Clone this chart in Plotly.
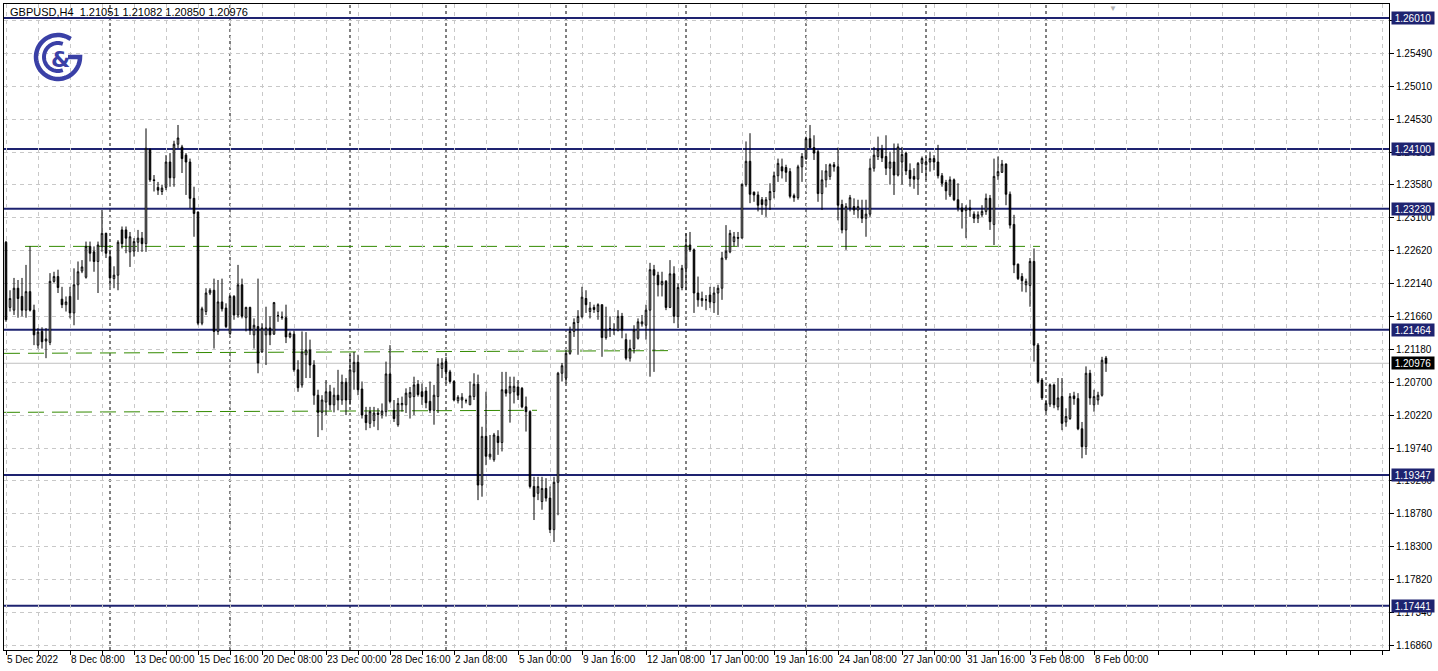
import numpy as np
import pandas as pd
import plotly.graph_objects as go

symbol = "GBPUSD,H4"

opens = [
    1.2274, 1.2179, 1.2175, 1.2207, 1.2195, 1.2175, 1.2202, 1.2175, 1.2124, 1.2144,
    1.2130, 1.2128, 1.2217, 1.2224, 1.2191, 1.2183, 1.2195, 1.2171, 1.2212, 1.2232,
    1.2223, 1.2268, 1.2260, 1.2246, 1.2268, 1.2287, 1.2253, 1.2221, 1.2226, 1.2292,
    1.2292, 1.2260, 1.2261, 1.2274, 1.2280, 1.2272, 1.2409, 1.2365, 1.2354, 1.2348,
    1.2354, 1.2391, 1.2368, 1.2417, 1.2413, 1.2401, 1.2391, 1.2338, 1.2318, 1.2156,
    1.2173, 1.2200, 1.2204, 1.2144, 1.2187, 1.2178, 1.2141, 1.2195, 1.2168, 1.2212,
    1.2164, 1.2179, 1.2139, 1.2151, 1.2114, 1.2139, 1.2149, 1.2140, 1.2167, 1.2164,
    1.2164, 1.2136, 1.2140, 1.2088, 1.2066, 1.2110, 1.2117, 1.2095, 1.2051, 1.2026,
    1.2041, 1.2056, 1.2037, 1.2051, 1.2044, 1.2070, 1.2044, 1.2085, 1.2099, 1.2060,
    1.2022, 1.2010, 1.2014, 1.2025, 1.2023, 1.2027, 1.2082, 1.2029, 1.2008, 1.2037,
    1.2037, 1.2048, 1.2049, 1.2067, 1.2056, 1.2057, 1.2042, 1.2029, 1.2049, 1.2090,
    1.2100, 1.2085, 1.2071, 1.2043, 1.2044, 1.2043, 1.2037, 1.2049, 1.2067, 1.1920,
    1.1991, 1.1961, 1.1957, 1.1991, 1.1982, 1.2059, 1.2054, 1.2056, 1.2063, 1.2061,
    1.2034, 1.2027, 1.1918, 1.1908, 1.1896, 1.1915, 1.1901, 1.1855, 1.1924, 1.2083,
    1.2076, 1.2112, 1.2144, 1.2157, 1.2166, 1.2192, 1.2173, 1.2179, 1.2173, 1.2183,
    1.2135, 1.2148, 1.2146, 1.2146, 1.2166, 1.2132, 1.2105, 1.2119, 1.2134, 1.2155,
    1.2153, 1.2175, 1.2234, 1.2226, 1.2212, 1.2217, 1.2179, 1.2228, 1.2166, 1.2208,
    1.2236, 1.2270, 1.2263, 1.2200, 1.2189, 1.2190, 1.2197, 1.2186, 1.2200, 1.2207,
    1.2251, 1.2260, 1.2275, 1.2281, 1.2280, 1.2358, 1.2392, 1.2347, 1.2343, 1.2336,
    1.2328, 1.2336, 1.2348, 1.2371, 1.2384, 1.2383, 1.2377, 1.2342, 1.2339, 1.2384,
    1.2396, 1.2425, 1.2412, 1.2406, 1.2345, 1.2365, 1.2370, 1.2387, 1.2384, 1.2329,
    1.2292, 1.2324, 1.2326, 1.2321, 1.2321, 1.2309, 1.2315, 1.2382, 1.2399, 1.2409,
    1.2399, 1.2382, 1.2391, 1.2372, 1.2391, 1.2404, 1.2379, 1.2370, 1.2366, 1.2389,
    1.2387, 1.2391, 1.2396, 1.2391, 1.2371, 1.2361, 1.2343, 1.2365, 1.2336, 1.2324,
    1.2320, 1.2324, 1.2315, 1.2309, 1.2314, 1.2319, 1.2338, 1.2300, 1.2371, 1.2376,
    1.2388, 1.2344, 1.2300, 1.2242, 1.2224, 1.2212, 1.2211, 1.2246, 1.2124, 1.2073,
    1.2029, 1.2038, 1.2066, 1.2034, 1.2049, 1.2012, 1.2017, 1.2050, 1.2046, 1.2002,
    1.1976, 1.2083, 1.2037, 1.2044, 1.2051, 1.21051,
]
highs = [
    1.2276, 1.2204, 1.2222, 1.2219, 1.2222, 1.2241, 1.2268, 1.2183, 1.2149, 1.2150,
    1.2149, 1.2229, 1.2231, 1.2234, 1.2209, 1.2195, 1.2209, 1.2236, 1.2246, 1.2248,
    1.2275, 1.2275, 1.2268, 1.2275, 1.2321, 1.2288, 1.2263, 1.2239, 1.2277, 1.2297,
    1.2297, 1.2289, 1.2280, 1.2292, 1.2289, 1.2440, 1.2411, 1.2372, 1.2362, 1.2358,
    1.2401, 1.2404, 1.2422, 1.2445, 1.2416, 1.2404, 1.2396, 1.2355, 1.2319, 1.2180,
    1.2207, 1.2207, 1.2221, 1.2219, 1.2221, 1.2185, 1.2197, 1.2197, 1.2241, 1.2221,
    1.2180, 1.2180, 1.2163, 1.2221, 1.2156, 1.2180, 1.2166, 1.2187, 1.2173, 1.2173,
    1.2183, 1.2144, 1.2145, 1.2102, 1.2144, 1.2143, 1.2132, 1.2102, 1.2059, 1.2051,
    1.2073, 1.2066, 1.2062, 1.2088, 1.2081, 1.2076, 1.2110, 1.2114, 1.2110, 1.2071,
    1.2034, 1.2034, 1.2034, 1.2032, 1.2039, 1.2100, 1.2124, 1.2044, 1.2047, 1.2049,
    1.2061, 1.2063, 1.2078, 1.2073, 1.2068, 1.2063, 1.2071, 1.2066, 1.2105, 1.2105,
    1.2107, 1.2088, 1.2073, 1.2051, 1.2054, 1.2046, 1.2071, 1.2083, 1.2081, 1.2005,
    1.2056, 1.1993, 1.1996, 1.2000, 1.2085, 1.2085, 1.2078, 1.2078, 1.2073, 1.2063,
    1.2049, 1.2029, 1.1932, 1.1932, 1.1932, 1.1930, 1.1918, 1.1932, 1.2085, 1.2098,
    1.2117, 1.2151, 1.2163, 1.2175, 1.2209, 1.2204, 1.2187, 1.2183, 1.2185, 1.2183,
    1.2180, 1.2166, 1.2156, 1.2175, 1.2171, 1.2141, 1.2132, 1.2153, 1.2163, 1.2168,
    1.2183, 1.2244, 1.2241, 1.2231, 1.2231, 1.2219, 1.2248, 1.2239, 1.2214, 1.2241,
    1.2287, 1.2289, 1.2265, 1.2224, 1.2202, 1.2197, 1.2209, 1.2209, 1.2212, 1.2260,
    1.2299, 1.2292, 1.2289, 1.2289, 1.2360, 1.2421, 1.2433, 1.2348, 1.2348, 1.2340,
    1.2340, 1.2360, 1.2377, 1.2396, 1.2396, 1.2387, 1.2382, 1.2345, 1.2387, 1.2404,
    1.2428, 1.2445, 1.2430, 1.2409, 1.2379, 1.2388, 1.2389, 1.2391, 1.2412, 1.2336,
    1.2331, 1.2343, 1.2338, 1.2336, 1.2336, 1.2336, 1.2396, 1.2413, 1.2428, 1.2416,
    1.2430, 1.2406, 1.2418, 1.2418, 1.2413, 1.2406, 1.2389, 1.2382, 1.2391, 1.2399,
    1.2399, 1.2406, 1.2401, 1.2416, 1.2375, 1.2365, 1.2370, 1.2367, 1.2360, 1.2331,
    1.2328, 1.2336, 1.2319, 1.2319, 1.2328, 1.2345, 1.2343, 1.2396, 1.2399, 1.2394,
    1.2389, 1.2348, 1.2314, 1.2243, 1.2229, 1.2221, 1.2251, 1.2265, 1.2127, 1.2076,
    1.2044, 1.2068, 1.2068, 1.2076, 1.2076, 1.2032, 1.2054, 1.2056, 1.2054, 1.2012,
    1.2093, 1.2088, 1.2059, 1.2056, 1.2107, 1.21082,
]
lows = [
    1.2158, 1.2173, 1.2168, 1.2164, 1.2166, 1.2164, 1.2173, 1.2124, 1.2119, 1.2119,
    1.2105, 1.2124, 1.2215, 1.2200, 1.2178, 1.2173, 1.2163, 1.2153, 1.2190, 1.2229,
    1.2221, 1.2246, 1.2231, 1.2200, 1.2260, 1.2251, 1.2209, 1.2207, 1.2204, 1.2265,
    1.2258, 1.2238, 1.2253, 1.2260, 1.2260, 1.2260, 1.2362, 1.2348, 1.2343, 1.2343,
    1.2350, 1.2355, 1.2355, 1.2411, 1.2375, 1.2343, 1.2324, 1.2282, 1.2153, 1.2153,
    1.2168, 1.2197, 1.2119, 1.2139, 1.2173, 1.2149, 1.2139, 1.2161, 1.2164, 1.2163,
    1.2144, 1.2139, 1.2119, 1.2083, 1.2113, 1.2095, 1.2124, 1.2139, 1.2158, 1.2161,
    1.2127, 1.2134, 1.2085, 1.2056, 1.2062, 1.2076, 1.2076, 1.2037, 1.1990, 1.2000,
    1.2022, 1.2029, 1.2026, 1.2029, 1.2037, 1.2022, 1.2037, 1.2059, 1.2051, 1.2017,
    1.2000, 1.2003, 1.2005, 1.2000, 1.2017, 1.2020, 1.2039, 1.2012, 1.2005, 1.2027,
    1.2025, 1.2017, 1.2022, 1.2049, 1.2037, 1.2032, 1.2025, 1.2008, 1.2025, 1.2076,
    1.2068, 1.2068, 1.2042, 1.2039, 1.2032, 1.2039, 1.2037, 1.2044, 1.1898, 1.1903,
    1.1949, 1.1957, 1.1954, 1.1964, 1.1969, 1.2049, 1.2011, 1.2039, 1.2044, 1.2032,
    1.1998, 1.1915, 1.1869, 1.1898, 1.1884, 1.1896, 1.1850, 1.1837, 1.1876, 1.2071,
    1.2068, 1.2110, 1.2136, 1.2110, 1.2163, 1.2171, 1.2163, 1.2171, 1.2161, 1.2107,
    1.2132, 1.2136, 1.2139, 1.2144, 1.2134, 1.2102, 1.2100, 1.2112, 1.2132, 1.2151,
    1.2132, 1.2078, 1.2085, 1.2195, 1.2195, 1.2175, 1.2178, 1.2156, 1.2149, 1.2204,
    1.2204, 1.2260, 1.2171, 1.2180, 1.2180, 1.2175, 1.2178, 1.2171, 1.2168, 1.2190,
    1.2248, 1.2258, 1.2268, 1.2267, 1.2280, 1.2355, 1.2331, 1.2333, 1.2319, 1.2314,
    1.2311, 1.2321, 1.2338, 1.2362, 1.2367, 1.2362, 1.2338, 1.2333, 1.2336, 1.2362,
    1.2394, 1.2411, 1.2394, 1.2333, 1.2321, 1.2354, 1.2365, 1.2377, 1.2306, 1.2287,
    1.2263, 1.2319, 1.2314, 1.2309, 1.2302, 1.2282, 1.2311, 1.2377, 1.2394, 1.2391,
    1.2372, 1.2358, 1.2343, 1.2370, 1.2358, 1.2372, 1.2355, 1.2352, 1.2343, 1.2375,
    1.2365, 1.2377, 1.2379, 1.2367, 1.2355, 1.2336, 1.2340, 1.2334, 1.2319, 1.2294,
    1.2280, 1.2311, 1.2302, 1.2302, 1.2311, 1.2314, 1.2292, 1.2270, 1.2365, 1.2375,
    1.2328, 1.2294, 1.2229, 1.2219, 1.2202, 1.2201, 1.2180, 1.2100, 1.2068, 1.2044,
    1.2025, 1.2034, 1.2032, 1.2029, 1.2000, 1.2005, 1.2015, 1.2037, 1.2000, 1.1959,
    1.1964, 1.2037, 1.2027, 1.2037, 1.2049, 1.20850,
]
closes = [
    1.2161, 1.2192, 1.2207, 1.2192, 1.2175, 1.2202, 1.2175, 1.2139, 1.2143, 1.2129,
    1.2133, 1.2217, 1.2224, 1.2208, 1.2183, 1.2187, 1.2171, 1.2212, 1.2231, 1.2238,
    1.2268, 1.2258, 1.2246, 1.2270, 1.2287, 1.2258, 1.2222, 1.2226, 1.2274, 1.2272,
    1.2280, 1.2282, 1.2275, 1.2280, 1.2272, 1.2411, 1.2365, 1.2364, 1.2350, 1.2353,
    1.2391, 1.2368, 1.2417, 1.2426, 1.2396, 1.2391, 1.2338, 1.2316, 1.2156, 1.2177,
    1.2200, 1.2204, 1.2144, 1.2187, 1.2177, 1.2151, 1.2195, 1.2168, 1.2212, 1.2166,
    1.2179, 1.2146, 1.2153, 1.2098, 1.2149, 1.2149, 1.2139, 1.2186, 1.2167, 1.2165,
    1.2136, 1.2141, 1.2088, 1.2062, 1.2114, 1.2117, 1.2095, 1.2051, 1.2026, 1.2044,
    1.2056, 1.2037, 1.2051, 1.2044, 1.2070, 1.2044, 1.2088, 1.2099, 1.2059, 1.2022,
    1.2011, 1.2027, 1.2025, 1.2023, 1.2028, 1.2082, 1.2042, 1.2017, 1.2039, 1.2039,
    1.2054, 1.2055, 1.2066, 1.2052, 1.2049, 1.2040, 1.2029, 1.2051, 1.2096, 1.2098,
    1.2085, 1.2071, 1.2044, 1.2048, 1.2048, 1.2043, 1.2050, 1.2067, 1.1920, 1.1991,
    1.1962, 1.1965, 1.1993, 1.1982, 1.2059, 1.2054, 1.2064, 1.2064, 1.2051, 1.2034,
    1.2027, 1.1918, 1.1903, 1.1918, 1.1915, 1.1901, 1.1855, 1.1924, 1.2083, 1.2094,
    1.2112, 1.2144, 1.2157, 1.2166, 1.2194, 1.2183, 1.2178, 1.2176, 1.2183, 1.2135,
    1.2147, 1.2148, 1.2147, 1.2166, 1.2146, 1.2105, 1.2119, 1.2146, 1.2158, 1.2158,
    1.2175, 1.2234, 1.2226, 1.2212, 1.2217, 1.2179, 1.2228, 1.2166, 1.2208, 1.2236,
    1.2270, 1.2263, 1.2200, 1.2190, 1.2192, 1.2190, 1.2187, 1.2200, 1.2207, 1.2251,
    1.2261, 1.2287, 1.2282, 1.2280, 1.2358, 1.2392, 1.2344, 1.2343, 1.2328, 1.2329,
    1.2336, 1.2348, 1.2371, 1.2389, 1.2378, 1.2376, 1.2341, 1.2339, 1.2384, 1.2399,
    1.2425, 1.2412, 1.2404, 1.2345, 1.2365, 1.2378, 1.2387, 1.2384, 1.2328, 1.2292,
    1.2326, 1.2339, 1.2321, 1.2326, 1.2309, 1.2315, 1.2382, 1.2401, 1.2409, 1.2397,
    1.2382, 1.2391, 1.2372, 1.2413, 1.2402, 1.2378, 1.2367, 1.2366, 1.2389, 1.2396,
    1.2391, 1.2396, 1.2391, 1.2371, 1.2360, 1.2349, 1.2365, 1.2336, 1.2324, 1.2319,
    1.2324, 1.2321, 1.2309, 1.2314, 1.2319, 1.2338, 1.2304, 1.2370, 1.2377, 1.2388,
    1.2344, 1.2299, 1.2241, 1.2221, 1.2218, 1.2217, 1.2246, 1.2124, 1.2071, 1.2047,
    1.2039, 1.2066, 1.2037, 1.2047, 1.2010, 1.2020, 1.2049, 1.2046, 1.2002, 1.1976,
    1.2083, 1.2047, 1.2049, 1.2051, 1.2102, 1.20976,
]

# trading calendar of the H4 bars shown (Dec 26 was a holiday)
first_bar = pd.Timestamp("2022-12-05 16:00")
last_bar = pd.Timestamp("2023-02-08 12:00")
holidays = [pd.Timestamp("2022-12-26")]

x_tick_labels = ["5 Dec 2022", "8 Dec 08:00", "13 Dec 00:00", "15 Dec 16:00", "20 Dec 08:00",
                 "23 Dec 00:00", "28 Dec 16:00", "2 Jan 08:00", "5 Jan 00:00", "9 Jan 16:00",
                 "12 Jan 08:00", "17 Jan 00:00", "19 Jan 16:00", "24 Jan 08:00", "27 Jan 00:00",
                 "31 Jan 16:00", "3 Feb 08:00", "8 Feb 00:00"]

y_tick_values = [1.16860, 1.17340, 1.17820, 1.18300, 1.18780, 1.19260, 1.19740, 1.20220,
                 1.20700, 1.21180, 1.21660, 1.22140, 1.22620, 1.23100, 1.23580, 1.24055,
                 1.24530, 1.25010, 1.25490, 1.25970]

levels = [1.26010, 1.24100, 1.23230, 1.21464, 1.19347, 1.17441]

# green trend lines: (start bar, start price, end bar, end price)
green_lines = [
    (4.75, 1.2268, 258.5, 1.2268),
    (-0.5, 1.2112, 166.0, 1.2116),
    (-0.5, 1.2026, 132.75, 1.2029),
]

# ---------------------------------------------------------------------------
days = [d for d in pd.bdate_range("2022-12-05", "2023-02-08") if d not in holidays]
bar_times = [d + pd.Timedelta(hours=h) for d in days for h in range(0, 24, 4)]
bar_times = [t for t in bar_times if first_bar <= t <= last_bar]
n = len(bar_times)
xs = list(range(n))

def fmt(t):
    return f"{t.day} {t:%b} {t:%H:%M}"

names = [fmt(t) for t in bar_times]
label_pos = {0: x_tick_labels[0]}
for lab in x_tick_labels[1:]:
    if lab in names:
        label_pos[names.index(lab)] = lab

X_MAX = 345.75
tickvals, ticktext = [], []
k = 0
while k <= X_MAX:
    tickvals.append(k)
    ticktext.append(label_pos.get(k, ""))
    k += 8
for p, lab in label_pos.items():
    if p not in tickvals:
        tickvals.append(p)
        ticktext.append(lab)

week_starts = [i for i in range(1, n) if bar_times[i].isocalendar()[1] != bar_times[i - 1].isocalendar()[1]]

NAVY = "#1e2370"
FONT = "Liberation Sans"

fig = go.Figure()
fig.add_trace(go.Candlestick(
    x=xs, open=opens, high=highs, low=lows, close=closes,
    increasing=dict(line=dict(color="black", width=1), fillcolor="white"),
    decreasing=dict(line=dict(color="black", width=1), fillcolor="black"),
    whiskerwidth=0, showlegend=False, hoverinfo="skip",
))

shapes = []
for w in week_starts:
    shapes.append(dict(type="line", xref="x", yref="paper", x0=w, x1=w, y0=0, y1=1,
                       line=dict(color="black", width=1, dash="3px,3px"), layer="below"))
shapes.append(dict(type="line", xref="paper", yref="y", x0=0, x1=1, y0=closes[-1], y1=closes[-1],
                   line=dict(color="#c0c0c0", width=1), layer="below"))
for (xa, ya, xb, yb) in green_lines:
    shapes.append(dict(type="line", xref="x", yref="y", x0=xa, x1=xb, y0=ya, y1=yb,
                       line=dict(color="#338a00", width=1, dash="16px,8px"), layer="below"))
for lv in levels:
    shapes.append(dict(type="line", xref="paper", yref="y", x0=0, x1=1, y0=lv, y1=lv,
                       line=dict(color=NAVY, width=2), layer="below"))

# logo (decorative emblem)
LOGO = "#3a40a6"
cx, cy = (58 - 4) / 1385, 1 - (57 - 4) / 646

def arc(r, a0, a1, steps=60):
    a = np.radians(np.linspace(a0, a1, steps))
    pts = [f"{r*np.cos(t):.2f},{r*np.sin(t):.2f}" for t in a]
    return "M" + " L".join(pts)

shapes.append(dict(type="path", xref="paper", yref="paper", xsizemode="pixel", ysizemode="pixel",
                   xanchor=cx, yanchor=cy, path=arc(22, 55, 360) + " L10,0",
                   line=dict(color=LOGO, width=4.5)))
shapes.append(dict(type="path", xref="paper", yref="paper", xsizemode="pixel", ysizemode="pixel",
                   xanchor=cx, yanchor=cy, path=arc(14, 70, 290),
                   line=dict(color=LOGO, width=4)))

annotations = [
    dict(xref="paper", yref="paper", x=(8 - 4) / 1385, y=1 - (12 - 4) / 646, xanchor="left",
         yanchor="middle", showarrow=False,
         text=f"{symbol}  {opens[-1]:.5f} {highs[-1]:.5f} {lows[-1]:.5f} {closes[-1]:.5f}",
         font=dict(family=FONT, size=11, color="black")),
    dict(xref="paper", yref="paper", x=cx, y=cy, xanchor="center", yanchor="middle", showarrow=False,
         text="<b>&</b>", font=dict(family="DejaVu Sans", size=22, color=LOGO), xshift=2, yshift=-2),
    dict(xref="paper", yref="paper", x=(1113 - 4) / 1385, y=1, xanchor="center", yanchor="top",
         showarrow=False, text="▼", font=dict(size=8, color="#b0b0b0"), yshift=2),
]
for lv in levels:
    annotations.append(dict(xref="paper", yref="y", x=1, y=lv, xanchor="left", yanchor="middle",
                            xshift=2, showarrow=False, text=f"{lv:.5f}", bgcolor=NAVY,
                            font=dict(family=FONT, size=10, color="white"), borderpad=1,
                            width=40, height=10))
annotations.append(dict(xref="paper", yref="y", x=1, y=closes[-1], xanchor="left", yanchor="middle",
                        xshift=2, showarrow=False, text=f"{closes[-1]:.5f}", bgcolor="black",
                        font=dict(family=FONT, size=10, color="white"), borderpad=1,
                        width=40, height=10))

fig.update_layout(
    width=1438, height=671, autosize=False,
    margin=dict(l=4, r=49, t=4, b=21),
    paper_bgcolor="white", plot_bgcolor="white",
    showlegend=False, boxgap=0.45,
    font=dict(family=FONT, size=10, color="black"),
    shapes=shapes, annotations=annotations,
    xaxis=dict(
        range=[-0.5, X_MAX], tickmode="array", tickvals=tickvals, ticktext=ticktext,
        ticks="outside", ticklen=4, tickcolor="black", ticklabelposition="outside right",
        tickangle=0, automargin=False,
        showgrid=True, gridcolor="#c8c8c8", griddash="4px,4px", gridwidth=1,
        showline=True, linecolor="black", linewidth=1, mirror=True, zeroline=False,
        rangeslider=dict(visible=False), fixedrange=True,
        tickfont=dict(family=FONT, size=10, color="black"),
    ),
    yaxis=dict(
        range=[1.16795, 1.26214], side="right", tickmode="array", tickvals=y_tick_values,
        ticktext=[f"{v:.5f}" for v in y_tick_values], automargin=False,
        ticks="outside", ticklen=4, tickcolor="black",
        showgrid=True, gridcolor="#c8c8c8", griddash="4px,4px", gridwidth=1,
        showline=True, linecolor="black", linewidth=1, mirror=True, zeroline=False,
        fixedrange=True, tickfont=dict(family=FONT, size=10, color="black"),
    ),
)

fig.write_html("out.html", config={"displayModeBar": False},
               post_script="document.body.style.margin='0';document.body.style.overflow='hidden';")
